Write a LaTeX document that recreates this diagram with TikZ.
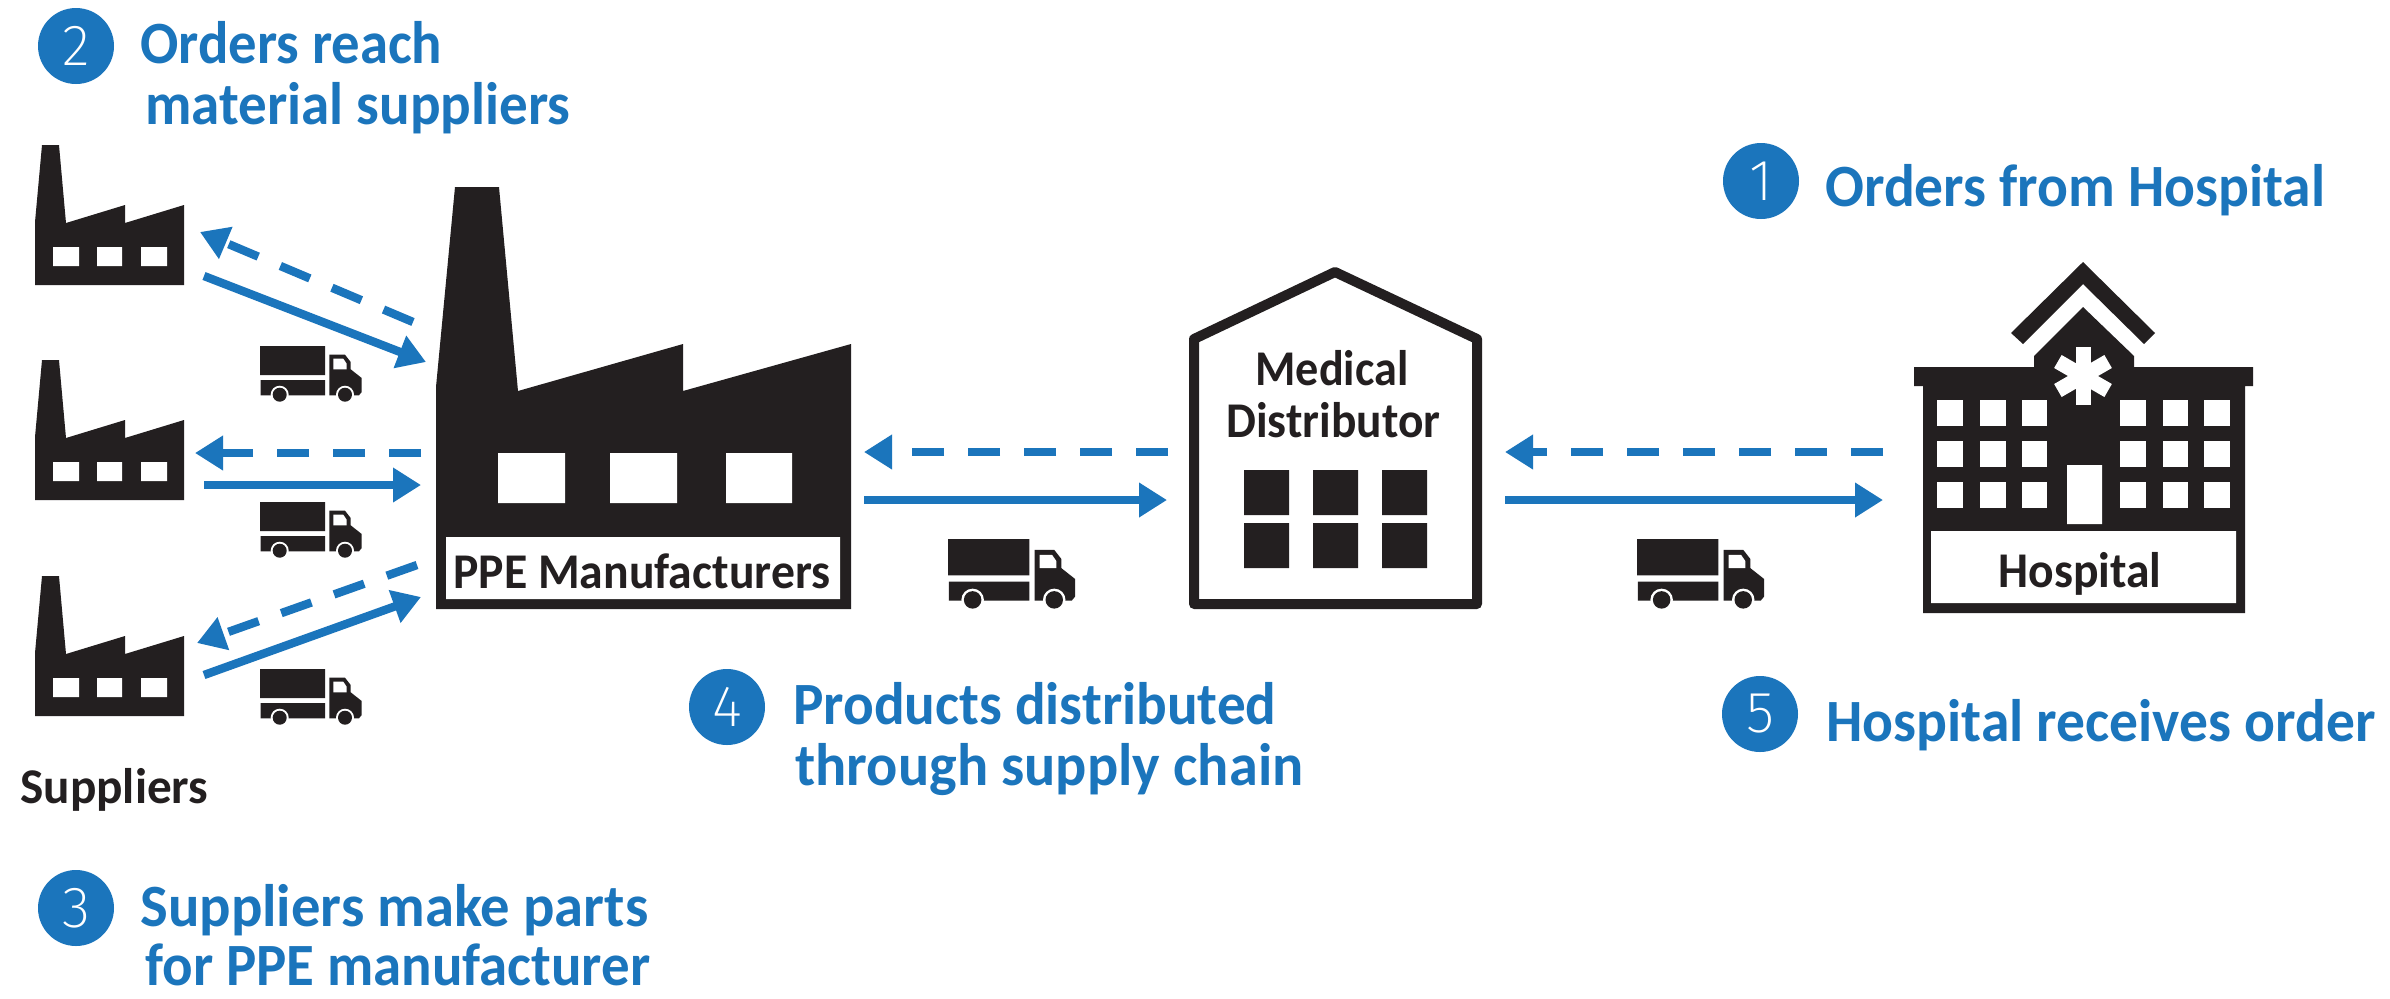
\documentclass[tikz,border=0pt]{standalone}
\usepackage{graphicx}
\usepackage{fontspec}
\setmainfont{Carlito}
\newfontfamily\digitfont{Fira Sans ExtraLight}
\usetikzlibrary{arrows.meta}
\definecolor{ppeblue}{HTML}{1B75BC}
\definecolor{ppeblack}{HTML}{231F20}
\newcommand{\fitw}[2]{\raisebox{0pt}[\height][0pt]{\resizebox{\dimexpr #1pt/2\relax}{\height}{#2}}}
\tikzset{
  x=0.5pt,y=-0.5pt,
  flow/.style={draw=ppeblue,line width=4.2pt,-{Triangle[length=14pt,width=16.5pt]}},
  flowback/.style={flow,dash pattern=on 16pt off 12pt},
  badge/.style={circle,fill=ppeblue,draw=none,minimum size=38pt,inner sep=0pt,text=white,font=\digitfont\fontsize{29}{29}\selectfont},
  headline/.style={anchor=base west,inner sep=0pt,text=ppeblue,font=\bfseries\fontsize{30}{30}\selectfont},
  caption/.style={anchor=base west,inner sep=0pt,text=ppeblack,font=\bfseries\fontsize{25}{25}\selectfont},
}
\newcommand{\smallfactory}[1]{%
  \begin{scope}[shift={(0,#1)}]
    \fill[ppeblack] (42,145)--(59,145)--(66,223)--(125,205)--(125,223)--(184,205)--(184,285)--(35,285)--(35,222)--cycle;
    \fill[white] (53,247) rectangle (79,266) (97,247) rectangle (122,266) (141,247) rectangle (167,266);
  \end{scope}}
\newcommand{\truckicon}[3]{%
  \begin{scope}[shift={(#1,#2)},scale=#3]
    \fill[ppeblack] (0,0) rectangle (65,29) (0.7,34) rectangle (65,49.3);
    \fill[ppeblack] (69.3,8.7)--(85,8.7)--(90.7,16)--(90.7,23.3)--(101.7,32)--(101.7,46)--(99,49.3)--(69.3,49.3)--cycle;
    \fill[white] (73.3,12.7)--(83.3,12.7)--(86.7,17.7)--(86.7,23.3)--(73.3,23.3)--cycle;
    \fill[white] (19.7,48.7) circle[radius=9] (85,48.7) circle[radius=9];
    \fill[ppeblack] (19.7,48.7) circle[radius=7] (85,48.7) circle[radius=7];
  \end{scope}}
\begin{document}
\begin{tikzpicture}
\useasboundingbox[fill=white] (0,0) rectangle (2390,998);
% suppliers
\smallfactory{0}\smallfactory{215}\smallfactory{431}
\truckicon{260}{346}{1}\truckicon{260}{502}{1}\truckicon{260}{669}{1}
\truckicon{948}{539}{1.25}\truckicon{1637}{539}{1.25}
% PPE factory
\fill[ppeblack] (455,187)--(499,187)--(518,391)--(683,344)--(683,391)--(851,344)--(851,609)--(436,609)--(436,387)--cycle;
\fill[white] (498,453) rectangle (565,503) (610,453) rectangle (677,503) (726,453) rectangle (792,503) (446,537) rectangle (840,599);
\node[caption] (ppe) at (453,588) {\fitw{377}{PPE Manufacturers}};
% distributor
\draw[ppeblack,line width=5pt,line join=round] (1194,339)--(1335,272)--(1477,339)--(1477,604)--(1194,604)--cycle;
\fill[ppeblack] (1244,470) rectangle (1289,515) (1313,470) rectangle (1358,515) (1382,470) rectangle (1427,515)
 (1244,523) rectangle (1289,568) (1313,523) rectangle (1358,568) (1382,523) rectangle (1427,568);
\node[caption] (med1) at (1255,385) {\fitw{153}{Medical}};
\node[caption] (med2) at (1226,437) {\fitw{214}{Distributor}};
% hospital
\fill[ppeblack] (2083,262)--(2155,333)--(2144,344)--(2083,284)--(2023,344)--(2011,333)--cycle;
\fill[ppeblack] (2083,307)--(2134,356)--(2134,367)--(2253,367)--(2253,386)--(2245,386)--(2245,613)--(1923,613)--(1923,386)--(1914,386)--(1914,367)--(2034,367)--(2034,356)--cycle;
\foreach \wy in {400,441,482}{
  \foreach \wx/\ww in {1937/26,1980/26,2022/25,2120/26,2163/25,2204/26}{
    \fill[white] (\wx,\wy) rectangle ++(\ww,26);}}
\fill[white] (2067,465) rectangle (2102,524) (1931,531) rectangle (2236,603);
\foreach \a in {0,60,120}{
  \fill[white,shift={(2083,376)},rotate=\a] (-7.5,-29) rectangle (7.5,29);}
\node[caption] (hosp) at (1998,587) {\fitw{163}{Hospital}};
\node[caption] (supp) at (20,803) {\fitw{188}{Suppliers}};
% connector ends
\coordinate (s1a) at (204,276); \coordinate (s1b) at (426,362);
\coordinate (s1c) at (413,322); \coordinate (s1d) at (200,232);
\coordinate (s2c) at (421,453); \coordinate (s2d) at (195,453);
\coordinate (s2a) at (204,485); \coordinate (s2b) at (421,485);
\coordinate (s3c) at (417,565); \coordinate (s3d) at (197,643);
\coordinate (s3a) at (204,675); \coordinate (s3b) at (421,597);
\coordinate (m1) at (1168,452); \coordinate (m2) at (864,452);
\coordinate (m3) at (864,500); \coordinate (m4) at (1167,500);
\coordinate (h1) at (1883,452); \coordinate (h2) at (1505,452);
\coordinate (h3) at (1505,500); \coordinate (h4) at (1883,500);
\draw[flow] (s1a)--(s1b); \draw[flowback] (s1c)--(s1d);
\draw[flowback] (s2c)--(s2d); \draw[flow] (s2a)--(s2b);
\draw[flowback] (s3c)--(s3d); \draw[flow] (s3a)--(s3b);
\draw[flowback] (m1)--(m2); \draw[flow] (m3)--(m4);
\draw[flowback] (h1)--(h2); \draw[flow] (h3)--(h4);
% badges
\node[badge] (b1) at (1761,181) {1};
\node[badge] (b2) at (76,46) {2};
\node[badge] (b3) at (76,908) {3};
\node[badge] (b4) at (727,707) {4};
\node[badge] (b5) at (1760,714) {5};
% headlines
\node[headline] (t1) at (1825,206) {\fitw{500}{Orders from Hospital}};
\node[headline] (t2a) at (140,63) {\fitw{302}{Orders reach}};
\node[headline] (t2b) at (145,124) {\fitw{425}{material suppliers}};
\node[headline] (t3a) at (140,926) {\fitw{508}{Suppliers make parts}};
\node[headline] (t3b) at (145,985) {\fitw{505}{for PPE manufacturer}};
\node[headline] (t4a) at (793,724) {\fitw{483}{Products distributed}};
\node[headline] (t4b) at (795,785) {\fitw{508}{through supply chain}};
\node[headline] (t5) at (1826,741) {\fitw{549}{Hospital receives order}};
\end{tikzpicture}
\end{document}
